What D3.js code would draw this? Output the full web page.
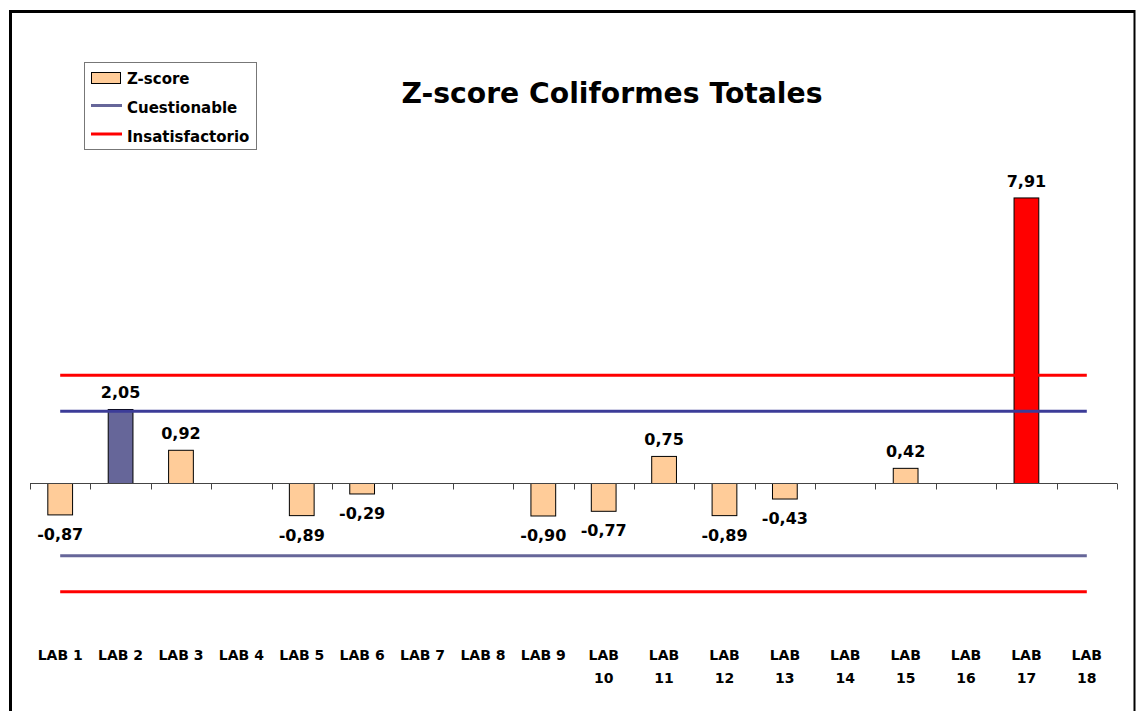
<!DOCTYPE html>
<html>
<head>
<meta charset="utf-8">
<script src="https://cdn.jsdelivr.net/npm/d3@7"></script>
<style>
  html, body { margin: 0; padding: 0; background: #fff; }
  svg { display: block; }
</style>
</head>
<body>
<svg id="chart" width="1136" height="711"></svg>
<script>
const categories = ["LAB 1","LAB 2","LAB 3","LAB 4","LAB 5","LAB 6","LAB 7","LAB 8","LAB 9",
  "LAB 10","LAB 11","LAB 12","LAB 13","LAB 14","LAB 15","LAB 16","LAB 17","LAB 18"];
const zscores = [-0.87, 2.05, 0.92, null, -0.89, -0.29, null, null, -0.90,
  -0.77, 0.75, -0.89, -0.43, null, 0.42, null, 7.91, null];
const cuestionable = [2, -2];
const insatisfactorio = [3, -3];
const titleText = "Z-score Coliformes Totales";
const legendItems = ["Z-score", "Cuestionable", "Insatisfactorio"];

const FONT = "'DejaVu Sans', Verdana, sans-serif";
const peach = "#FFCC99", navy = "#666699", red = "#FF0000";
function barColor(v) {
  if (Math.abs(v) >= 3) return red;
  if (Math.abs(v) >= 2) return navy;
  return peach;
}

const svg = d3.select("#chart");

// frame
svg.append("line").attr("x1", 10.5).attr("x2", 10.5).attr("y1", 10).attr("y2", 711)
  .attr("stroke", "#000").attr("stroke-width", 3);
svg.append("line").attr("x1", 9).attr("x2", 1135).attr("y1", 11.5).attr("y2", 11.5)
  .attr("stroke", "#000").attr("stroke-width", 3);
svg.append("line").attr("x1", 1134.5).attr("x2", 1134.5).attr("y1", 10).attr("y2", 711)
  .attr("stroke", "#000").attr("stroke-width", 2);

const x = d3.scaleBand().domain(categories).range([30, 1117]).padding(0);
const y = d3.scaleLinear().domain([0, 8]).range([483.5, 483.5 - 8 * 36.1]);
const bw = x.bandwidth() * 0.41;

// threshold lines
const xStart = x(categories[0]) + x.bandwidth() / 2;
const xEnd = x(categories[categories.length - 1]) + x.bandwidth() / 2;
const refLines = [
  { v: insatisfactorio[0], c: red },
  { v: cuestionable[0], c: "#3c3c98" },
  { v: cuestionable[1], c: "#666699" },
  { v: insatisfactorio[1], c: red }
];

// bars
const data = categories.map((c, i) => ({ c, v: zscores[i] })).filter(d => d.v !== null);
svg.append("g").selectAll("rect").data(data).join("rect")
  .attr("x", d => x(d.c) + (x.bandwidth() - bw) / 2)
  .attr("y", d => y(Math.max(0, d.v)))
  .attr("width", bw)
  .attr("height", d => Math.abs(y(d.v) - y(0)))
  .attr("fill", d => barColor(d.v))
  .attr("stroke", "#000").attr("stroke-width", 1);

svg.append("g").selectAll("line").data(refLines).join("line")
  .attr("x1", xStart).attr("x2", xEnd)
  .attr("y1", d => y(d.v)).attr("y2", d => y(d.v))
  .attr("stroke", d => d.c).attr("stroke-width", 3);

// axis line with ticks at band boundaries
const ax = svg.append("g");
ax.append("line").attr("x1", x.range()[0]).attr("x2", x.range()[1])
  .attr("y1", y(0)).attr("y2", y(0)).attr("stroke", "#444").attr("stroke-width", 1);
const tickXs = categories.map(c => x(c)).concat([x.range()[1]]);
ax.selectAll("line.tick").data(tickXs).join("line").attr("class", "tick")
  .attr("x1", d => Math.round(d) + 0.5).attr("x2", d => Math.round(d) + 0.5)
  .attr("y1", y(0)).attr("y2", y(0) + 6).attr("stroke", "#444").attr("stroke-width", 1);

// category labels
const catG = svg.append("g");
categories.forEach(c => {
  const cx = x(c) + x.bandwidth() / 2;
  const parts = c.split(" ");
  const lines = parts[1].length > 1 ? [parts[0], parts[1]] : [c];
  lines.forEach((t, j) => {
    catG.append("text").attr("x", cx).attr("y", 660 + j * 23)
      .attr("text-anchor", "middle").attr("font-family", FONT).attr("font-weight", "bold")
      .attr("font-size", 14).attr("fill", "#000").text(t);
  });
});

// value labels
const fmt = v => d3.format(".2f")(v).replace(".", ",").replace("−", "-");
svg.append("g").selectAll("text").data(data).join("text")
  .attr("x", d => x(d.c) + x.bandwidth() / 2)
  .attr("y", d => d.v >= 0 ? y(d.v) - 11 : y(d.v) + 25)
  .attr("text-anchor", "middle").attr("font-family", FONT).attr("font-weight", "bold")
  .attr("font-size", 16).attr("fill", "#000").text(d => fmt(d.v));

// title
svg.append("text").attr("x", 612).attr("y", 103).attr("text-anchor", "middle")
  .attr("font-family", FONT).attr("font-weight", "bold").attr("font-size", 29)
  .attr("textLength", 421).attr("lengthAdjust", "spacingAndGlyphs")
  .attr("fill", "#000").text(titleText);

// legend
const lg = svg.append("g");
lg.append("rect").attr("x", 84.5).attr("y", 62.5).attr("width", 172).attr("height", 87)
  .attr("fill", "#fff").attr("stroke", "#777").attr("stroke-width", 1);
lg.append("rect").attr("x", 91.5).attr("y", 72.5).attr("width", 29).attr("height", 11)
  .attr("fill", peach).attr("stroke", "#000").attr("stroke-width", 1);
lg.append("line").attr("x1", 91).attr("x2", 122).attr("y1", 105.5).attr("y2", 105.5)
  .attr("stroke", "#666699").attr("stroke-width", 3);
lg.append("line").attr("x1", 91).attr("x2", 122).attr("y1", 134).attr("y2", 134)
  .attr("stroke", red).attr("stroke-width", 3);
legendItems.forEach((t, i) => {
  lg.append("text").attr("x", 127).attr("y", 84 + i * 29)
    .attr("font-family", FONT).attr("font-weight", "bold").attr("font-size", 15)
    .attr("fill", "#000").text(t);
});
</script>
</body>
</html>
